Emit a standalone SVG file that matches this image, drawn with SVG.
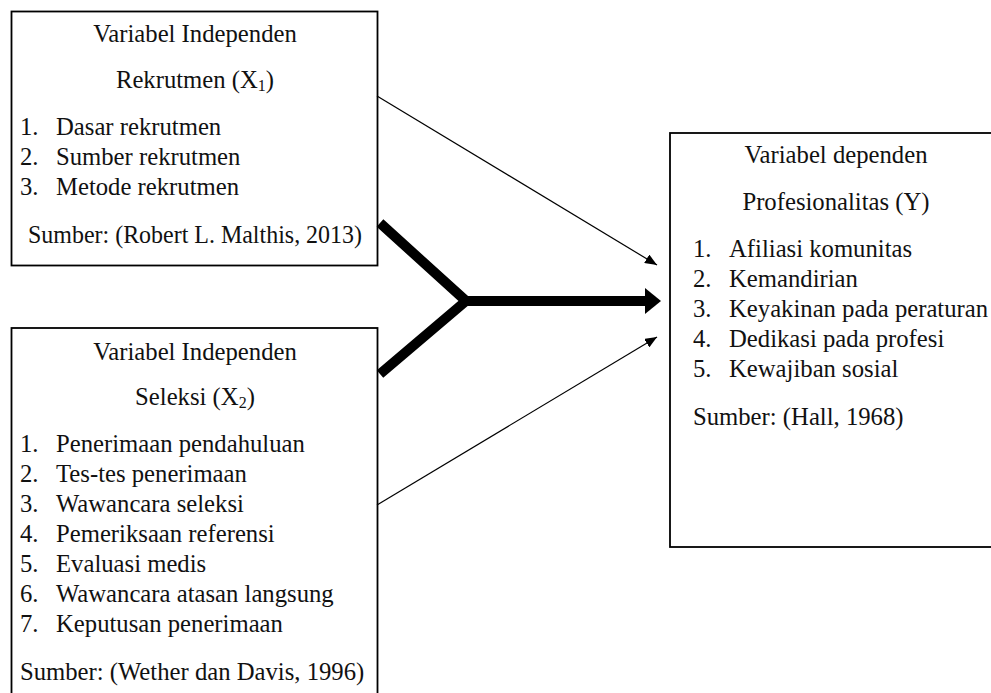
<svg xmlns="http://www.w3.org/2000/svg" width="991" height="693" viewBox="0 0 991 693">
<style>
.box{fill:#fff;stroke:#000;stroke-width:1.8}
text{font-size:24.7px;fill:#111}
.c{text-anchor:middle}
.sub{font-size:16px}
.thin{stroke:#000;stroke-width:1.2;fill:none}
.thick{stroke:#000;stroke-width:10;fill:none;stroke-linejoin:miter}
</style>
<defs>
<marker id="ah" viewBox="0 0 12 10" refX="12" refY="5" markerWidth="12" markerHeight="10" markerUnits="userSpaceOnUse" orient="auto">
<path d="M0,0 L12,5 L0,10 Z" fill="#000"/>
</marker>
</defs>
<rect width="991" height="693" fill="#fff"/>
<g font-family="'Liberation Serif', 'Times New Roman', 'DejaVu Serif', serif">
<g id="x1">
<rect class="box" x="11.5" y="11.5" width="366" height="254"/>
<text class="c" x="195" y="42">Variabel Independen</text>
<text class="c" x="195" y="88">Rekrutmen (X<tspan class="sub" dy="3">1</tspan><tspan dy="-3">)</tspan></text>
<text x="20" y="135">1.</text><text x="56" y="135">Dasar rekrutmen</text>
<text x="20" y="165">2.</text><text x="56" y="165">Sumber rekrutmen</text>
<text x="20" y="195">3.</text><text x="56" y="195">Metode rekrutmen</text>
<text x="28" y="243" textLength="334" lengthAdjust="spacingAndGlyphs">Sumber: (Robert L. Malthis, 2013)</text>
</g>
<g id="x2">
<rect class="box" x="11.5" y="328" width="366" height="400"/>
<text class="c" x="195" y="360">Variabel Independen</text>
<text class="c" x="195" y="405">Seleksi (X<tspan class="sub" dy="3">2</tspan><tspan dy="-3">)</tspan></text>
<text x="20" y="452">1.</text><text x="56" y="452">Penerimaan pendahuluan</text>
<text x="20" y="482">2.</text><text x="56" y="482">Tes-tes penerimaan</text>
<text x="20" y="512">3.</text><text x="56" y="512">Wawancara seleksi</text>
<text x="20" y="542">4.</text><text x="56" y="542">Pemeriksaan referensi</text>
<text x="20" y="572">5.</text><text x="56" y="572">Evaluasi medis</text>
<text x="20" y="602">6.</text><text x="56" y="602">Wawancara atasan langsung</text>
<text x="20" y="632">7.</text><text x="56" y="632">Keputusan penerimaan</text>
<text x="20" y="680">Sumber: (Wether dan Davis, 1996)</text>
</g>
<g id="y">
<rect class="box" x="670" y="133" width="340" height="414"/>
<text class="c" x="836" y="163">Variabel dependen</text>
<text class="c" x="836" y="210">Profesionalitas (Y)</text>
<text x="693" y="257">1.</text><text x="729" y="257">Afiliasi komunitas</text>
<text x="693" y="287">2.</text><text x="729" y="287">Kemandirian</text>
<text x="693" y="317">3.</text><text x="729" y="317">Keyakinan pada peraturan</text>
<text x="693" y="347">4.</text><text x="729" y="347">Dedikasi pada profesi</text>
<text x="693" y="377">5.</text><text x="729" y="377">Kewajiban sosial</text>
<text x="693" y="425">Sumber: (Hall, 1968)</text>
</g>
</g>
<g id="connectors">
<line class="thin" x1="377" y1="96" x2="657" y2="265" marker-end="url(#ah)"/>
<line class="thin" x1="377" y1="505" x2="657" y2="337" marker-end="url(#ah)"/>
<polyline class="thick" points="380,223 466,301 380,374"/>
<line class="thick" x1="466" y1="301" x2="647" y2="301"/>
<path d="M645,288 L661,301 L645,314 Z" fill="#000"/>
</g>
</svg>
